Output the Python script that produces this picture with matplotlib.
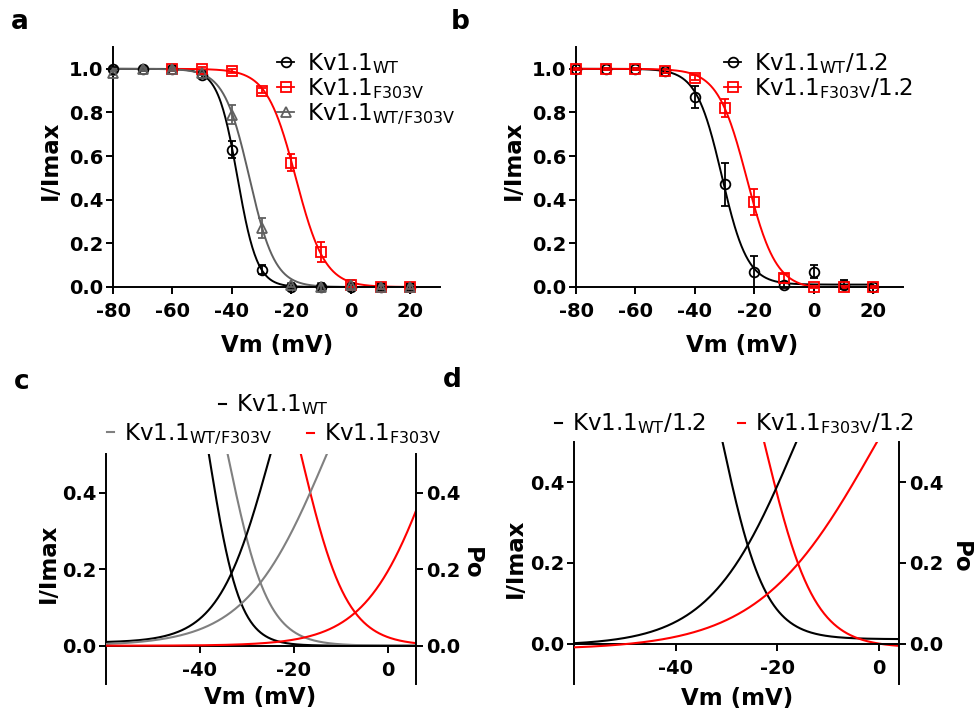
import numpy as np
import matplotlib
matplotlib.use("Agg")
import matplotlib.pyplot as plt
from matplotlib.lines import Line2D

plt.rcParams['font.family'] = ['DejaVu Sans']
plt.rcParams['mathtext.fontset'] = 'dejavusans'
plt.rcParams['axes.unicode_minus'] = False

W, H = 974, 712

# ---------------- data ----------------
volt = [-80, -70, -60, -50, -40, -30, -20, -10, 0, 10, 20]

# panel a
wt_mean = [1.0, 1.0, 1.0, 0.97, 0.63, 0.08, 0.0, 0.0, 0.0, 0.0, 0.0]
wt_err = [0.01, 0.01, 0.01, 0.01, 0.04, 0.02, 0.01, 0.01, 0.01, 0.02, 0.02]
f303v_volt = [-60, -50, -40, -30, -20, -10, 0, 10, 20]
f303v_mean = [1.0, 1.0, 0.99, 0.90, 0.57, 0.16, 0.01, 0.0, 0.0]
f303v_err = [0.01, 0.01, 0.01, 0.01, 0.04, 0.045, 0.01, 0.01, 0.01]
het_mean = [0.98, 1.0, 1.0, 0.98, 0.79, 0.27, 0.01, 0.0, 0.01, 0.0, 0.0]
het_err = [0.01, 0.01, 0.01, 0.01, 0.045, 0.045, 0.01, 0.02, 0.02, 0.01, 0.01]

# panel b
wt12_mean = [1.0, 1.0, 1.0, 0.99, 0.87, 0.47, 0.07, 0.01, 0.07, 0.01, 0.0]
wt12_err = [0.005, 0.005, 0.005, 0.01, 0.05, 0.10, 0.07, 0.015, 0.03, 0.02, 0.005]
f12_mean = [1.0, 1.0, 1.0, 0.99, 0.96, 0.82, 0.39, 0.04, 0.0, 0.0, 0.0]
f12_err = [0.005, 0.005, 0.005, 0.01, 0.01, 0.04, 0.06, 0.02, 0.005, 0.005, 0.005]

# Boltzmann fit parameters: (V1/2 in mV, slope k in mV, bottom)
inact_wt = (-38.1, 3.3, 0.0)
inact_f303v = (-18.5, 4.9, 0.0)
inact_het = (-34.1, 4.3, 0.0)
act_wt = (-24.9, 5.6, 0.008)
act_f303v = (10.5, 7.4, 0.0)
act_het = (-13.0, 8.7, 0.0)
inact_wt12 = (-30.9, 4.3, 0.011)
inact_f12 = (-22.5, 4.9, -0.01)
act_wt12 = (-16.3, 8.55, -0.005)
act_f12 = (-0.65, 11.5, -0.015)

lab_wt = r'Kv1.1$_{\mathrm{WT}}$'
lab_f = r'Kv1.1$_{\mathrm{F303V}}$'
lab_het = r'Kv1.1$_{\mathrm{WT/F303V}}$'
lab_wt12 = r'Kv1.1$_{\mathrm{WT}}$/1.2'
lab_f12 = r'Kv1.1$_{\mathrm{F303V}}$/1.2'

RED = '#ff0000'
GRAY_A = '#606060'
GRAY_C = '#808080'


def inact(v, p):
    vh, k, b = p
    return b + (1 - b) / (1 + np.exp((v - vh) / k))


def act(v, p):
    vh, k, b = p
    return b + (1 - b) / (1 + np.exp((vh - v) / k))


def rect(l, t, r, b):
    return [l / W, 1 - b / H, (r - l) / W, (b - t) / H]


fig = plt.figure(figsize=(W / 100, H / 100), dpi=100)

TICK_FS = 14
LAB_FS = 16.5
LEG_FS = 16.5


def style(ax, left=True, right=False):
    ax.spines['top'].set_visible(False)
    ax.spines['right'].set_visible(right)
    ax.spines['left'].set_visible(left)
    for s in ax.spines.values():
        s.set_linewidth(1.4)
    ax.tick_params(axis='both', width=1.4, length=5, labelsize=TICK_FS)
    ax.tick_params(axis='x', pad=6)
    ax.tick_params(axis='y', pad=2)


def eb(ax, x, y, e, color, marker):
    c = ax.errorbar(x, y, yerr=e, fmt=marker, mfc='none', mec=color, mew=1.3,
                    ms=7, ecolor=color, elinewidth=1.3, capsize=3, capthick=1.3,
                    zorder=3)
    for art in c.get_children():
        art.set_clip_on(False)


# ---------------- panel a ----------------
ax = fig.add_axes(rect(113, 47, 440, 287))
vv = np.linspace(-80, 20, 400)
vr = np.linspace(-60, 20, 400)
ax.plot(vv, inact(vv, inact_wt), color='k', lw=1.4)
ax.plot(vr, inact(vr, inact_f303v), color=RED, lw=1.4)
ax.plot(vv, inact(vv, inact_het), color=GRAY_A, lw=1.4)
eb(ax, volt, wt_mean, wt_err, 'k', 'o')
eb(ax, f303v_volt, f303v_mean, f303v_err, RED, 's')
eb(ax, volt, het_mean, het_err, GRAY_A, '^')
ax.set_xlim(-80, 30)
ax.set_ylim(0, 1.1)
ax.set_xticks([-80, -60, -40, -20, 0, 20])
ax.set_yticks([0, 0.2, 0.4, 0.6, 0.8, 1.0])
ax.set_yticklabels(['0.0', '0.2', '0.4', '0.6', '0.8', '1.0'])
style(ax)
ax.set_ylabel('I/Imax', fontsize=LAB_FS, fontweight='bold', va='center')
ax.yaxis.set_label_coords(-0.193, 0.529)
ax.set_xlabel('Vm (mV)', fontsize=LAB_FS, fontweight='bold', va='center')
ax.xaxis.set_label_coords(0.502, -0.242)
hs = [Line2D([], [], color='k', marker='o', mfc='none', ms=7, mew=1.3, lw=1.3),
      Line2D([], [], color=RED, marker='s', mfc='none', ms=7, mew=1.3, lw=1.3),
      Line2D([], [], color=GRAY_A, marker='^', mfc='none', ms=7, mew=1.3, lw=1.3)]
fig.legend(hs, [lab_wt, lab_f, lab_het], loc='center left',
           bbox_to_anchor=(277 / W, 1 - 89 / H), frameon=False, fontsize=LEG_FS,
           handlelength=0.75, handletextpad=0.55, labelspacing=0.0,
           borderpad=0, borderaxespad=0)

# ---------------- panel b ----------------
ax = fig.add_axes(rect(576, 47, 903, 287))
ax.plot(vv, inact(vv, inact_wt12), color='k', lw=1.4)
ax.plot(vv, inact(vv, inact_f12), color=RED, lw=1.4)
eb(ax, volt, wt12_mean, wt12_err, 'k', 'o')
eb(ax, volt, f12_mean, f12_err, RED, 's')
ax.set_xlim(-80, 30)
ax.set_ylim(0, 1.1)
ax.set_xticks([-80, -60, -40, -20, 0, 20])
ax.set_yticks([0, 0.2, 0.4, 0.6, 0.8, 1.0])
ax.set_yticklabels(['0.0', '0.2', '0.4', '0.6', '0.8', '1.0'])
style(ax)
ax.set_ylabel('I/Imax', fontsize=LAB_FS, fontweight='bold', va='center')
ax.yaxis.set_label_coords(-0.193, 0.529)
ax.set_xlabel('Vm (mV)', fontsize=LAB_FS, fontweight='bold', va='center')
ax.xaxis.set_label_coords(0.508, -0.242)
hs = [Line2D([], [], color='k', marker='o', mfc='none', ms=7, mew=1.3, lw=1.3),
      Line2D([], [], color=RED, marker='s', mfc='none', ms=7, mew=1.3, lw=1.3)]
fig.legend(hs, [lab_wt12, lab_f12], loc='center left',
           bbox_to_anchor=(724 / W, 1 - 76 / H), frameon=False, fontsize=LEG_FS,
           handlelength=0.75, handletextpad=0.55, labelspacing=0.0,
           borderpad=0, borderaxespad=0)


# ---------------- panels c / d ----------------
def zoom_panel(r, xlim, curves_i, curves_a, ylab_xy, xlab_xy, po_xy):
    ax = fig.add_axes(r)
    v = np.linspace(xlim[0], xlim[1], 500)
    for p, col in curves_i:
        ax.plot(v, inact(v, p), color=col, lw=1.5)
    ax2 = ax.twinx()
    for p, col in curves_a:
        ax2.plot(v, act(v, p), color=col, lw=1.5)
    for a in (ax, ax2):
        a.set_xlim(*xlim)
        a.set_ylim(-0.1, 0.5)
        a.set_yticks([0, 0.2, 0.4])
        a.set_yticklabels(['0.0', '0.2', '0.4'])
    ax.set_xticks([-40, -20, 0])
    ax.spines['bottom'].set_position(('data', 0))
    style(ax)
    for s in ['left', 'top', 'bottom']:
        ax2.spines[s].set_visible(False)
    ax2.spines['right'].set_linewidth(1.4)
    ax2.tick_params(axis='y', width=1.4, length=5, labelsize=TICK_FS, pad=2)
    ax.set_ylabel('I/Imax', fontsize=LAB_FS, fontweight='bold', va='center')
    ax.yaxis.set_label_coords(*ylab_xy)
    ax.set_xlabel('Vm (mV)', fontsize=LAB_FS, fontweight='bold', va='center')
    ax.xaxis.set_label_coords(*xlab_xy)
    ax2.set_ylabel('Po', fontsize=LAB_FS, fontweight='bold', rotation=270,
                   va='center')
    ax2.yaxis.set_label_coords(*po_xy)
    return ax, ax2


zoom_panel(rect(106, 454.3, 416, 684), (-60, 6),
           [(inact_wt, 'k'), (inact_het, GRAY_C), (inact_f303v, RED)],
           [(act_wt, 'k'), (act_het, GRAY_C), (act_f303v, RED)],
           (-0.187, 0.527), (0.497, -0.057), (1.18, 0.527))
zoom_panel(rect(574.3, 441.7, 899, 684), (-60, 4),
           [(inact_wt12, 'k'), (inact_f12, RED)],
           [(act_wt12, 'k'), (act_f12, RED)],
           (-0.183, 0.52), (0.50, -0.058), (1.188, 0.524))


def dash_legend(label, color, x, y):
    h = Line2D([], [], color=color, lw=1.5)
    fig.legend([h], [label], loc='center left', bbox_to_anchor=(x / W, 1 - y / H),
               frameon=False, fontsize=LEG_FS, handlelength=0.3,
               handletextpad=0.45, borderpad=0, borderaxespad=0)


dash_legend(lab_wt, 'k', 219, 405)
dash_legend(lab_het, GRAY_C, 107, 434)
dash_legend(lab_f, RED, 307, 434)
dash_legend(lab_wt12, 'k', 555, 424)
dash_legend(lab_f12, RED, 738, 424)

for txt, x, y in [('a', 20, 22), ('b', 460, 22), ('c', 22, 382), ('d', 452, 380)]:
    fig.text(x / W, 1 - y / H, txt, fontsize=19, fontweight='bold',
             ha='center', va='center')

# bold tick labels everywhere
for a in fig.axes:
    for t in a.get_xticklabels() + a.get_yticklabels():
        t.set_fontweight('bold')

fig.savefig('out.png', dpi=100)
